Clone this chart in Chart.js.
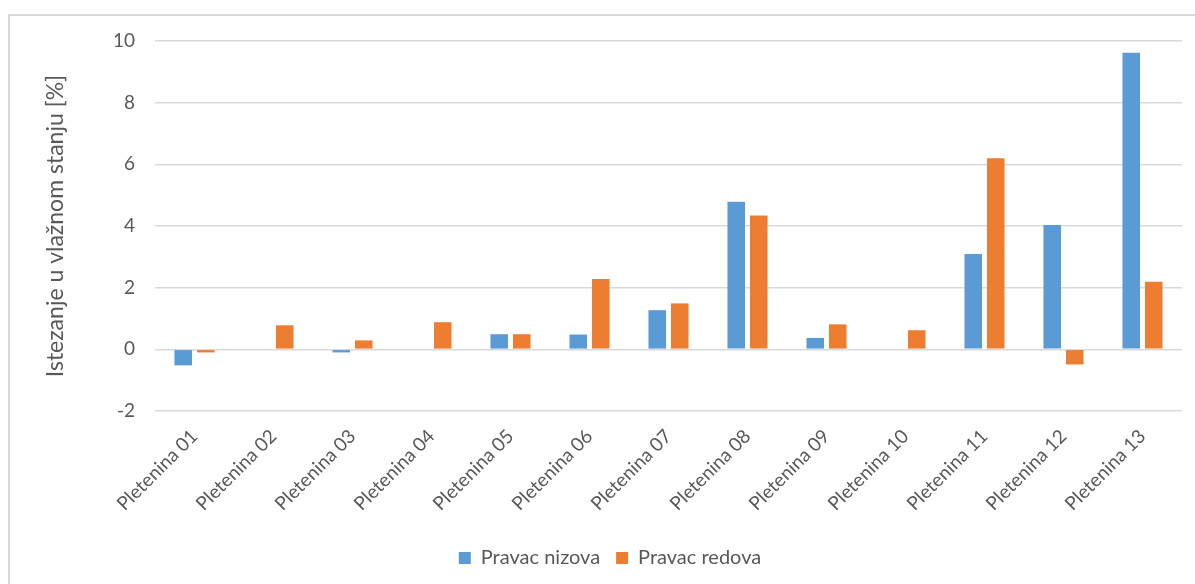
<!DOCTYPE html>
<html>
<head>
<meta charset="utf-8">
<script src="https://cdn.jsdelivr.net/npm/chart.js@4"></script>
<style>
  html, body { margin: 0; padding: 0; background: #fff; overflow: hidden; }
  #frame {
    position: absolute; left: 8px; top: 14px; width: 1200px; height: 600px;
    border: 2px solid #d9d9d9; box-sizing: border-box;
  }
  #wrap { position: absolute; left: 0; top: 0; width: 1195px; height: 584px; }
</style>
</head>
<body>
<div id="frame"></div>
<div id="wrap"><canvas id="istezanjeChart" width="1195" height="584"></canvas></div>
<script>
// Podaci
const categories = ['Pletenina 01', 'Pletenina 02', 'Pletenina 03', 'Pletenina 04', 'Pletenina 05',
    'Pletenina 06', 'Pletenina 07', 'Pletenina 08', 'Pletenina 09', 'Pletenina 10',
    'Pletenina 11', 'Pletenina 12', 'Pletenina 13'];
const pravacNizova = [-0.52, 0, -0.1, 0, 0.49, 0.48, 1.27, 4.79, 0.37, 0, 3.09, 4.03, 9.62];
const pravacRedova = [-0.1, 0.78, 0.29, 0.88, 0.49, 2.28, 1.49, 4.34, 0.81, 0.62, 6.2, -0.49, 2.19];

const fontFamily = 'Lato, "Open Sans", sans-serif';
const textColor = '#595959';

const ctx = document.getElementById('istezanjeChart').getContext('2d');
const istezanjeChart = new Chart(ctx, {
    type: 'bar',
    data: {
        labels: categories,
        datasets: [{
            label: 'Pravac nizova',
            data: pravacNizova,
            backgroundColor: '#5b9bd5',
            categoryPercentage: 0.57,
            barPercentage: 0.78
        }, {
            label: 'Pravac redova',
            data: pravacRedova,
            backgroundColor: '#ed7d31',
            categoryPercentage: 0.57,
            barPercentage: 0.78
        }]
    },
    options: {
        responsive: false,
        animation: false,
        layout: {
            padding: { left: 38, right: 13, top: 41, bottom: 6 }
        },
        plugins: {
            legend: {
                position: 'bottom',
                labels: {
                    color: textColor,
                    font: { family: fontFamily, size: 20 },
                    boxWidth: 12,
                    boxHeight: 12,
                    padding: 16
                }
            },
            tooltip: { enabled: false }
        },
        scales: {
            x: {
                grid: { display: false, drawTicks: false },
                border: { display: false },
                ticks: {
                    color: textColor,
                    font: { family: fontFamily, size: 19 },
                    minRotation: 45,
                    maxRotation: 45,
                    padding: 14
                },
                afterFit: function(scale) {
                    scale.height = 121;
                }
            },
            y: {
                min: -2,
                max: 10,
                ticks: {
                    stepSize: 2,
                    color: textColor,
                    font: { family: fontFamily, size: 19 },
                    padding: 20
                },
                grid: { color: '#d9d9d9', lineWidth: 1.5, drawTicks: false },
                border: { display: false },
                title: {
                    display: true,
                    text: 'Istezanje u vlažnom stanju [%]',
                    color: textColor,
                    font: { family: fontFamily, size: 23 },
                    padding: { top: 4, bottom: 0 }
                },
                afterFit: function(scale) {
                    scale.width = 117;
                }
            }
        }
    }
});
</script>
</body>
</html>
